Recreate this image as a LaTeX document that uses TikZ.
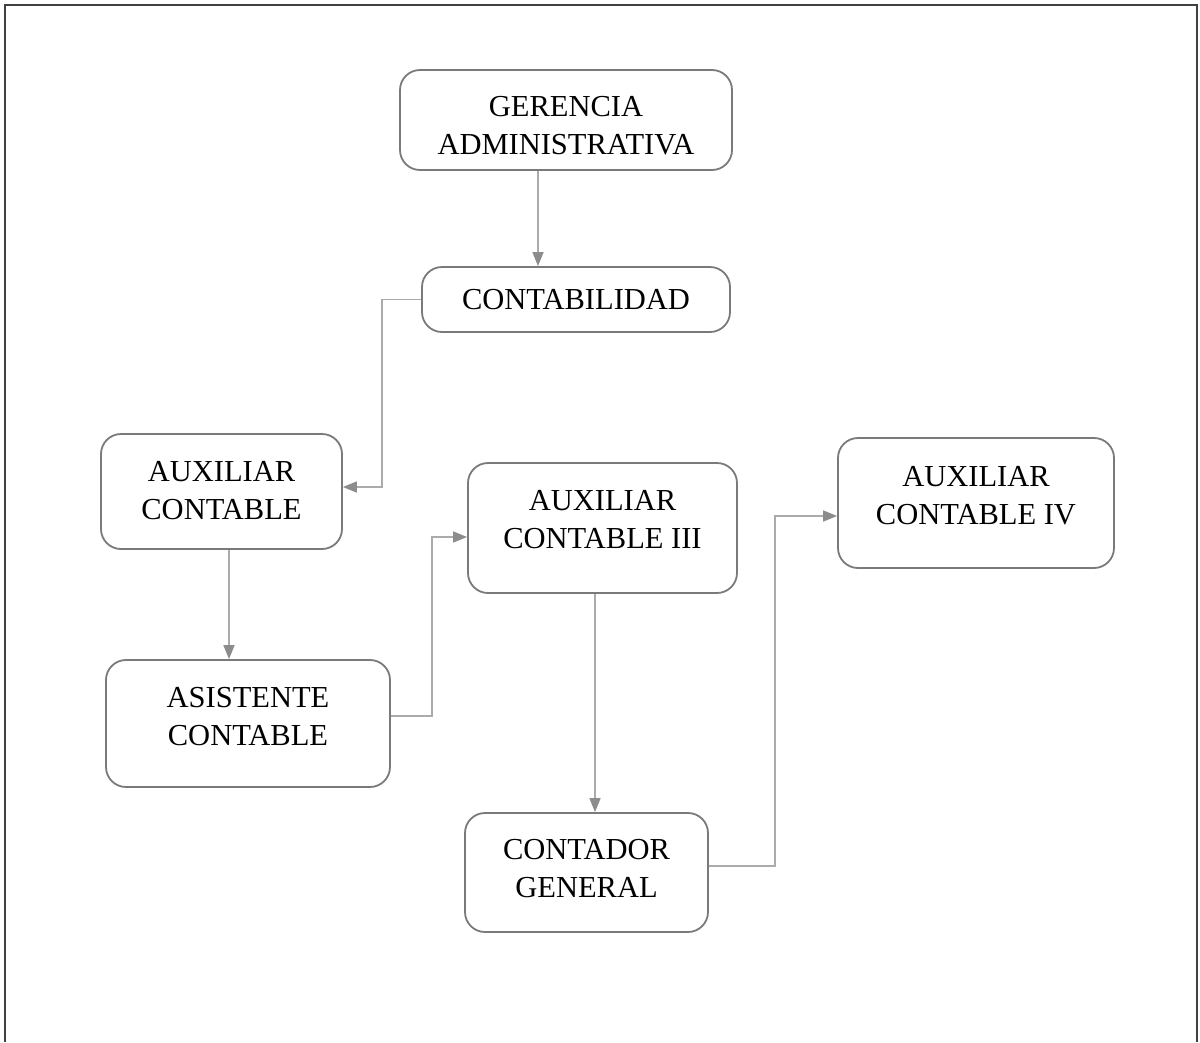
\documentclass[tikz,border=0pt]{standalone}
\usepackage{fontspec}
\setmainfont{Liberation Serif}
\usetikzlibrary{arrows.meta}
\definecolor{boxline}{HTML}{7A7A7A}
\definecolor{wire}{HTML}{ABABAB}
\definecolor{tip}{HTML}{8C8C8C}
% box label: centred lines, raised by #1 without changing the node size
\newcommand{\boxlabel}[2]{\raisebox{#1}[0pt][0pt]{\begin{tabular}{@{}c@{}}#2\end{tabular}}}
\begin{document}
\begin{tikzpicture}[x=1pt,y=-1pt,
  unit/.style={draw=boxline,line width=1.8pt,rounded corners=20pt,
    font=\fontsize{30.5}{38}\selectfont,inner sep=0pt},
  link/.style={draw=wire,line width=1.6pt,
    -{Triangle[length=14pt,width=11pt,fill=tip,color=tip]}}]
  \useasboundingbox (0,0) rectangle (1200,1042);
  % page frame, open at the bottom
  \draw[line width=2pt,color=black!75] (5,1042) -- (5,5) -- (1197,5) -- (1197,1042);

  \node[unit,minimum width=332pt,minimum height=100pt] (ger) at (566,120) {\boxlabel{-14pt}{GERENCIA\\ADMINISTRATIVA}};
  \node[unit,minimum width=308pt,minimum height=65pt] (contab) at (576,299.5) {\boxlabel{-8.5pt}{CONTABILIDAD}};
  \node[unit,minimum width=241pt,minimum height=115pt] (auxc) at (221.5,491.5) {\boxlabel{-7.5pt}{AUXILIAR\\CONTABLE}};
  \node[unit,minimum width=269pt,minimum height=130pt] (aux3) at (602.5,528) {\boxlabel{0pt}{AUXILIAR\\CONTABLE III}};
  \node[unit,minimum width=276pt,minimum height=130pt] (aux4) at (976,503) {\boxlabel{-1pt}{AUXILIAR\\CONTABLE IV}};
  \node[unit,minimum width=284pt,minimum height=127pt] (asist) at (248,723.5) {\boxlabel{-1.5pt}{ASISTENTE\\CONTABLE}};
  \node[unit,minimum width=243pt,minimum height=119pt] (contador) at (586.5,872.5) {\boxlabel{-5pt}{CONTADOR\\GENERAL}};

  \draw[link] ([xshift=-28pt]ger.south) -- ([xshift=-28pt]ger.south |- contab.north);
  \draw[link] (contab.west) -- ++(-39,0) |- ([yshift=4.5pt]auxc.east);
  \draw[link] ([xshift=7.5pt]auxc.south) -- ([xshift=7.5pt]auxc.south |- asist.north);
  \draw[link] ([yshift=7.5pt]asist.east) -- ++(41,0) |- ([yshift=-9pt]aux3.west);
  \draw[link] ([xshift=-7.5pt]aux3.south) -- ([xshift=-7.5pt]aux3.south |- contador.north);
  \draw[link] ([yshift=6.5pt]contador.east) -- ++(66,0) |- ([yshift=-13pt]aux4.west);
\end{tikzpicture}
\end{document}
